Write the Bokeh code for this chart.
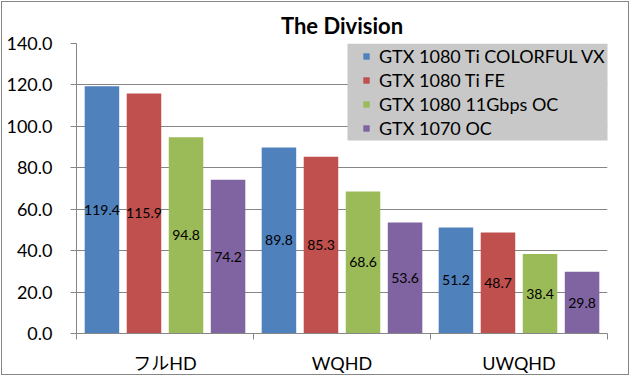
from bokeh.plotting import figure
from bokeh.models import (ColumnDataSource, FixedTicker, Range1d, Legend, LegendItem,
                          PrintfTickFormatter, InlineStyleSheet, BoxAnnotation)
from bokeh.core.properties import value
from bokeh.embed import file_html
from bokeh.resources import INLINE

# ---------------- data ----------------
chart_title = "The Division"
categories = ["フルHD", "WQHD", "UWQHD"]
series_names = ["GTX 1080 Ti COLORFUL VX", "GTX 1080 Ti FE", "GTX 1080 11Gbps OC", "GTX 1070 OC"]
colorful_vx = [119.4, 89.8, 51.2]
ti_fe = [115.9, 85.3, 48.7]
gtx1080_11gbps_oc = [94.8, 68.6, 38.4]
gtx1070_oc = [74.2, 53.6, 29.8]
y_ticks = [0, 20, 40, 60, 80, 100, 120, 140]

# ---------------- style ----------------
colors = ["#4F81BD", "#C0504D", "#9BBB59", "#8064A2"]
FONT = "Lato, Noto Sans CJK JP"
AXIS_GRAY = "#868686"
LEGEND_BG = "#c8c8c8"
bar_width = 0.195
bar_step = 0.2375

p = figure(width=630, height=376, output_backend="svg", toolbar_location=None,
           x_range=Range1d(0, len(categories)), y_range=Range1d(0, 140),
           min_border_left=76, min_border_right=23, min_border_top=43, min_border_bottom=39)
p.outline_line_color = None
p.background_fill_color = "white"
p.border_fill_color = "white"
p.stylesheets = [InlineStyleSheet(css=(
    ":host { position: relative; }\n"
    ":host::after { content: ''; position: absolute; left: 1px; top: 1px; right: 1px; bottom: 1px;"
    " border: 1px solid #868686; pointer-events: none; z-index: 100; }"))]

p.title.text = chart_title
p.title.align = "center"
p.title.offset = -17
p.title.text_font = FONT
p.title.text_font_size = "22px"
p.title.text_font_style = "bold"
p.title.text_color = "black"

series = [colorful_vx, ti_fe, gtx1080_11gbps_oc, gtx1070_oc]
n = len(series)
renderers = []
for i, (vals, name, col) in enumerate(zip(series, series_names, colors)):
    xs = [j + 0.5 + (i - (n - 1) / 2) * bar_step for j in range(len(categories))]
    src = ColumnDataSource(dict(x=xs, top=vals, mid=[v / 2 for v in vals],
                                label=[f"{v:.1f}" for v in vals]))
    r = p.vbar(x="x", top="top", bottom=0, width=bar_width, source=src,
               fill_color=col, line_color=None)
    p.text(x="x", y="mid", text="label", source=src, text_align="center",
           text_baseline="middle", text_font=value("Lato"), text_font_size="14px",
           text_color="black")
    renderers.append(r)

# y axis
p.yaxis.ticker = FixedTicker(ticks=y_ticks)
p.yaxis.formatter = PrintfTickFormatter(format="%.1f")
p.yaxis.axis_line_color = AXIS_GRAY
p.yaxis.major_tick_line_color = AXIS_GRAY
p.yaxis.major_tick_out = 6
p.yaxis.major_tick_in = 0
p.yaxis.minor_tick_line_color = None
p.yaxis.major_label_text_font = FONT
p.yaxis.major_label_text_font_size = "18px"
p.yaxis.major_label_text_color = "black"
p.yaxis.major_label_standoff = 18

# x axis
p.xaxis.ticker = FixedTicker(ticks=[j + 0.5 for j in range(len(categories))],
                             minor_ticks=list(range(len(categories) + 1)))
p.xaxis.major_label_overrides = {j + 0.5: c for j, c in enumerate(categories)}
p.xaxis.axis_line_color = AXIS_GRAY
p.xaxis.major_tick_line_color = None
p.xaxis.major_tick_out = 0
p.xaxis.major_tick_in = 0
p.xaxis.minor_tick_line_color = AXIS_GRAY
p.xaxis.minor_tick_out = 6
p.xaxis.minor_tick_in = 0
p.xaxis.major_label_text_font = FONT
p.xaxis.major_label_text_font_size = "18px"
p.xaxis.major_label_text_color = "black"
p.xaxis.major_label_standoff = 12

# grid
p.xgrid.visible = False
p.ygrid.grid_line_color = AXIS_GRAY
p.ygrid.grid_line_width = 1

# legend background (canvas ~347..617 x 47..144)
p.add_layout(BoxAnnotation(left=271, right=541, bottom=193, top=290,
                           left_units="screen", right_units="screen",
                           bottom_units="screen", top_units="screen",
                           fill_color=LEGEND_BG, fill_alpha=1.0, line_color=None))

legend = Legend(items=[LegendItem(label=nm, renderers=[r]) for nm, r in zip(series_names, renderers)],
                location=(286, 193), padding=0, spacing=0, margin=0,
                label_height=24, label_width=238, glyph_width=8, glyph_height=8, label_standoff=9,
                label_text_font=FONT, label_text_font_size="18px", label_text_color="black",
                background_fill_color=LEGEND_BG, background_fill_alpha=1.0, border_line_color=None)
p.add_layout(legend)

open("out.html", "w").write(file_html(p, INLINE))
